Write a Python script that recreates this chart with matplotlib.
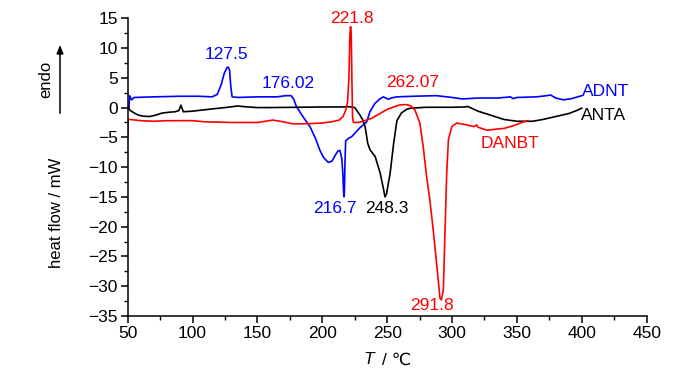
import numpy as np
import matplotlib
matplotlib.use("Agg")
import matplotlib.pyplot as plt
from matplotlib.ticker import MultipleLocator

plt.rcParams['font.family'] = ['Liberation Sans', 'DejaVu Sans']

# --- data ---
adnt_t = [51, 51.5, 53, 55, 70, 90, 105, 115, 119, 122, 124.5, 126.5, 127.5, 128.5, 129.5,
          130.5, 135, 150, 165, 172, 176, 178, 180, 185, 190.5, 195, 198, 201, 204.6, 207.5,
          210, 212, 213.6, 215, 215.8, 216.4, 216.7, 217.0, 217.5, 218, 220, 222.6, 229,
          234.2, 236.7, 240.6, 244, 247, 250.8, 253, 257.3, 270, 288, 300, 308, 320, 335,
          345, 347, 350, 365, 373, 376, 380, 386, 392, 400]
adnt_hf = [0.0, 2.0, 1.3, 1.7, 1.8, 1.9, 1.9, 1.8, 2.2, 3.8, 5.8, 6.7, 6.8, 6.3, 3.5,
           1.8, 1.7, 1.8, 1.8, 2.0, 2.0, 1.4, 0.2, -1.5, -3.2, -5.3, -7.1, -8.4, -9.2, -9.0,
           -8.0, -7.3, -7.2, -8.5, -11.0, -14.2, -15.0, -14.5, -9.0, -5.6, -5.2, -4.9, -3.4,
           -2.4, -0.7, 0.7, 1.4, 1.8, 1.4, 1.6, 1.8, 1.9, 2.0, 1.7, 1.45, 1.6, 1.6,
           1.8, 1.5, 1.7, 1.8, 2.0, 2.1, 1.6, 1.3, 1.5, 2.0]

anta_t = [50, 52, 55, 58, 62, 67, 72, 76, 81, 86.5, 89.5, 91, 92.9, 100, 112, 125, 135,
          140, 150, 160, 180, 200, 215, 221, 225, 229, 231, 233, 235, 236.8, 240.7, 244.6,
          247, 248.3, 249.5, 252.3, 255, 257.5, 261, 265, 268, 280, 300, 310, 312, 315,
          320, 330, 340, 350, 362, 370, 380, 390, 396, 400]
anta_hf = [0.1, -0.5, -0.9, -1.25, -1.45, -1.5, -1.25, -0.95, -0.8, -0.7, -0.5, 0.4, -0.7,
           -0.6, -0.3, 0.0, 0.27, 0.15, 0.0, 0.0, 0.05, 0.1, 0.1, 0.15, 0.0, -1.25, -2.0,
           -3.2, -6.0, -7.1, -8.2, -11.0, -13.5, -15.0, -14.5, -11.0, -6.0, -2.2, -0.9,
           -0.3, -0.1, 0.05, 0.05, 0.1, 0.2, -0.1, -0.6, -1.3, -2.0, -2.3, -2.3, -2.0,
           -1.5, -1.0, -0.5, -0.1]

danbt_t = [50, 50.3, 52, 60, 70, 80, 100, 110, 130, 150, 162, 170, 178, 190, 200, 208,
           213, 216, 218, 219.5, 220.5, 221.3, 221.8, 222.3, 222.8, 223.3, 224, 228, 231.5,
           238, 244.4, 250, 255, 259.7, 264.8, 268, 271.4, 275.2, 277.8, 280.4, 282.9,
           285.5, 288.1, 290.7, 291.8, 293.3, 294.6, 295.9, 297.2, 299.8, 303.6, 311.3,
           317, 319, 320, 327, 335, 340, 348, 355, 358.5]
danbt_hf = [-5.0, -2.0, -2.0, -2.2, -2.3, -2.2, -2.2, -2.4, -2.5, -2.5, -2.1, -2.4, -2.75,
            -2.7, -2.6, -2.35, -2.1, -1.5, -0.5, 1.0, 5.0, 12.5, 13.6, 12.5, 5.0, -1.5,
            -2.5, -2.5, -2.3, -1.8, -1.0, -0.3, 0.1, 0.45, 0.5, 0.3, -0.4, -2.6, -6.6,
            -11.6, -15.5, -20.6, -26.2, -32.0, -32.3, -30.6, -20.6, -11.0, -5.4, -3.2,
            -2.6, -2.9, -3.2, -2.9, -3.3, -3.8, -3.6, -3.5, -3.0, -2.4, -2.2]

fig = plt.figure(figsize=(7, 3.73), dpi=100)
ax = fig.add_axes([0.1824, 0.153, 0.7414, 0.798])

ax.plot(adnt_t, adnt_hf, color="blue", lw=1.2)
ax.plot(anta_t, anta_hf, color="black", lw=1.2)
ax.plot(danbt_t, danbt_hf, color="red", lw=1.2)

ax.set_xlim(50, 450)
ax.set_ylim(-35, 15)
ax.xaxis.set_major_locator(MultipleLocator(50))
ax.xaxis.set_minor_locator(MultipleLocator(25))
ax.yaxis.set_major_locator(MultipleLocator(5))
ax.yaxis.set_minor_locator(MultipleLocator(2.5))
for s in ["top", "right"]:
    ax.spines[s].set_visible(False)
for s in ["left", "bottom"]:
    ax.spines[s].set_linewidth(1.1)
ax.tick_params(which="major", direction="out", length=5, width=1.1, labelsize=12.5, pad=2)
ax.tick_params(which="minor", direction="out", length=3, width=1.0)

# x label: italic T plus " / ℃"
fig.text(0.527, 0.035, "T", fontsize=12.5, style="italic", ha="center", va="center")
fig.text(0.546, 0.035, "/ ℃", fontsize=12.5, ha="left", va="center",
         family=["Liberation Sans", "DejaVu Sans"])

fig.text(0.081, 0.429, "heat flow / mW", rotation=90, ha="center", va="center", fontsize=12)
fig.text(0.065, 0.788, "endo", rotation=90, ha="center", va="center", fontsize=12)
fig.patches.append(matplotlib.patches.FancyArrowPatch(
    (0.0857, 0.689), (0.0857, 0.887), transform=fig.transFigure,
    arrowstyle="-|>,head_length=5,head_width=2", color="black", lw=1.1))

fs = 12.5
ax.text(125.8, 8.84, "127.5", color="blue", fontsize=fs, ha="center", va="center")
ax.text(173.5, 3.97, "176.02", color="blue", fontsize=fs, ha="center", va="center")
ax.text(209.8, -17.03, "216.7", color="blue", fontsize=fs, ha="center", va="center")
ax.text(222.9, 14.9, "221.8", color="red", fontsize=fs, ha="center", va="center")
ax.text(269.9, 4.13, "262.07", color="red", fontsize=fs, ha="center", va="center")
ax.text(284.5, -33.3, "291.8", color="red", fontsize=fs, ha="center", va="center")
ax.text(249.8, -17.03, "248.3", color="black", fontsize=fs, ha="center", va="center")
ax.text(418.6, 2.62, "ADNT", color="blue", fontsize=fs, ha="center", va="center")
ax.text(416.8, -1.41, "ANTA", color="black", fontsize=fs, ha="center", va="center")
ax.text(344.6, -6.11, "DANBT", color="red", fontsize=fs, ha="center", va="center")

fig.savefig("out.png", dpi=100)
